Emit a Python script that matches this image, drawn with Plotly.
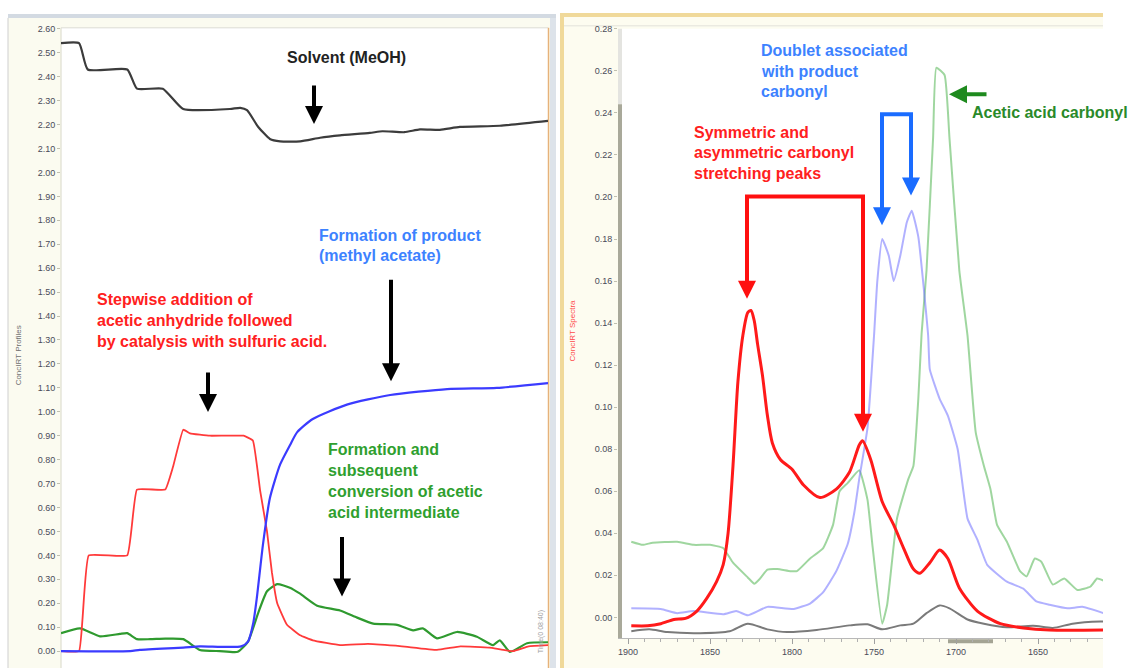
import plotly.graph_objects as go

W, H = 1129, 668

# ---------------- Left panel: ConcIRT profiles (time, arbitrary units 0-100) ----------------
solvent_t = [0, 3.7, 5.5, 13.6, 15.6, 20.9, 25.1, 34.7, 36.8, 38.2, 40.5, 42.9, 45.0, 49.1,
             53.2, 57.3, 63.4, 66.0, 70.5, 73.7, 77.8, 81.9, 90.1, 100]
solvent_v = [2.54, 2.54, 2.43, 2.43, 2.35, 2.35, 2.265, 2.265, 2.27, 2.26, 2.19, 2.14, 2.13, 2.13,
             2.145, 2.155, 2.165, 2.172, 2.168, 2.18, 2.178, 2.19, 2.195, 2.215]

anhydride_t = [0, 3.7, 5.7, 13.6, 15.6, 21.4, 23.0, 25.1, 26.5, 30.6, 37.5, 39.4, 40.9, 42.3,
               43.3, 44.4, 46.4, 49.1, 51.7, 57.3, 63.0, 70.0, 77.2, 82.0, 88.0, 92.8, 96.0, 100]
anhydride_v = [0, 0, 0.40, 0.40, 0.675, 0.675, 0.77, 0.925, 0.91, 0.90, 0.90, 0.88, 0.67, 0.50,
               0.33, 0.20, 0.11, 0.066, 0.045, 0.025, 0.03, 0.02, 0.005, 0.02, 0.015, 0.0, 0.02, 0.025]

product_t = [0, 14.2, 16.2, 25.1, 28.5, 37.0, 38.4, 39.5, 40.2, 41.5, 42.9, 45.0, 47.0, 48.5,
             51.7, 58.7, 67.6, 79.3, 89.5, 100]
product_v = [0, 0, 0.005, 0.015, 0.02, 0.02, 0.04, 0.12, 0.22, 0.45, 0.64, 0.78, 0.86, 0.915,
             0.97, 1.03, 1.07, 1.095, 1.10, 1.12]

acid_t = [0, 3.9, 8.0, 12.1, 13.6, 15.6, 18.3, 21.4, 25.1, 28.5, 32.6, 36.3, 38.4, 40.5, 42.3,
          44.4, 47.0, 49.1, 52.6, 57.3, 60.8, 64.1, 69.0, 72.3, 74.3, 77.2, 81.3, 85.4, 88.7,
          90.1, 92.2, 95.7, 100]
acid_v = [0.075, 0.095, 0.062, 0.072, 0.075, 0.05, 0.05, 0.052, 0.05, 0.005, 0.0, -0.003, 0.04,
          0.16, 0.25, 0.28, 0.265, 0.24, 0.19, 0.17, 0.14, 0.115, 0.11, 0.087, 0.095, 0.053, 0.08,
          0.06, 0.025, 0.045, -0.003, 0.033, 0.037]

left_ticks = [round(i * 0.1, 2) for i in range(27)]

# ---------------- Right panel: ConcIRT spectra (wavenumber) ----------------
red_w = [1898, 1888, 1880, 1872, 1865, 1858, 1852, 1846, 1842, 1839, 1836, 1833, 1830, 1827,
         1825, 1823, 1821, 1818, 1815, 1812, 1807, 1800, 1793, 1783, 1773, 1765, 1759, 1757,
         1752, 1745, 1738, 1732, 1726, 1722, 1716, 1710, 1705, 1698, 1687, 1673, 1659, 1643, 1610]
red_v = [-0.004, -0.004, -0.003, -0.001, -0.0005, 0.003, 0.009, 0.017, 0.025, 0.04, 0.072, 0.112,
         0.134, 0.145, 0.146, 0.141, 0.13, 0.115, 0.096, 0.083, 0.075, 0.0705, 0.063, 0.057, 0.061,
         0.069, 0.082, 0.084, 0.075, 0.055, 0.044, 0.033, 0.023, 0.021, 0.026, 0.032, 0.028, 0.014,
         0.003, -0.003, -0.005, -0.006, -0.006]

blue_w = [1898, 1880, 1870, 1860, 1842, 1834, 1827, 1815, 1799, 1789, 1781, 1773, 1766, 1762,
          1759, 1754, 1750, 1748, 1745, 1741, 1738, 1734, 1730, 1727, 1723, 1717, 1716, 1710,
          1705, 1699, 1693, 1687, 1681, 1669, 1659, 1651, 1643, 1632, 1623, 1610]
blue_v = [0.0043, 0.004, 0.002, 0.003, 0.0015, 0.003, 0.001, 0.005, 0.004, 0.0066, 0.012, 0.022,
          0.035, 0.05, 0.066, 0.09, 0.134, 0.16, 0.18, 0.172, 0.160, 0.172, 0.188, 0.1935, 0.181,
          0.134, 0.118, 0.104, 0.096, 0.08, 0.047, 0.037, 0.025, 0.017, 0.0137, 0.0076, 0.006,
          0.0043, 0.005, 0.002]

green_w = [1898, 1891, 1885, 1870, 1860, 1850, 1842, 1836, 1827, 1823, 1820, 1815, 1809, 1801,
           1797, 1789, 1781, 1775, 1771, 1766, 1759, 1754, 1751, 1745, 1742, 1736, 1729, 1726,
           1723, 1721, 1718, 1714, 1712, 1707, 1704, 1698, 1693, 1688, 1683, 1679, 1675, 1669,
           1661, 1657, 1652, 1648, 1641, 1634, 1626, 1618, 1614, 1610]
green_v = [0.036, 0.0345, 0.0355, 0.036, 0.0345, 0.0345, 0.033, 0.026, 0.019, 0.016, 0.018,
           0.0227, 0.023, 0.022, 0.022, 0.028, 0.033, 0.044, 0.06, 0.064, 0.07, 0.056, 0.0345,
           -0.003, 0.006, 0.047, 0.066, 0.072, 0.104, 0.135, 0.165, 0.228, 0.2615, 0.258, 0.228,
           0.165, 0.134, 0.088, 0.072, 0.061, 0.044, 0.036, 0.022, 0.0195, 0.028, 0.0265, 0.0156,
           0.0185, 0.013, 0.0147, 0.0185, 0.0175]

gray_w = [1898, 1887, 1876, 1856, 1838, 1827, 1815, 1803, 1785, 1765, 1754, 1745, 1734, 1726,
          1718, 1710, 1704, 1693, 1683, 1669, 1653, 1641, 1629, 1612, 1610]
gray_v = [-0.0066, -0.0057, -0.007, -0.0075, -0.0066, -0.003, -0.0057, -0.007, -0.006, -0.0038,
          -0.0033, -0.0057, -0.0038, -0.003, 0.002, 0.0057, 0.0043, -0.001, -0.003, -0.0047,
          -0.004, -0.005, -0.003, -0.002, -0.002]

right_yticks = [round(i * 0.02, 2) for i in range(15)]
right_xticks = [1900, 1850, 1800, 1750, 1700, 1650]


def P(x):
    return x / W


def Q(y):
    return 1 - y / H


fig = go.Figure()


def add_line(x, y, color, width, xa, ya, smooth):
    fig.add_trace(go.Scatter(x=x, y=y, mode="lines",
                             line=dict(color=color, width=width, shape="spline", smoothing=smooth),
                             xaxis=xa, yaxis=ya, showlegend=False, hoverinfo="skip"))


add_line(solvent_t, solvent_v, "#3c3c3c", 2.2, "x", "y", 0.5)
add_line(acid_t, acid_v, "#2f9a2f", 2.2, "x", "y", 0.5)
add_line(anhydride_t, anhydride_v, "#ff3a3a", 1.8, "x", "y", 0.3)
add_line(product_t, product_v, "#3b3bff", 2.2, "x", "y", 0.6)

add_line(green_w, green_v, "rgba(80,180,80,0.55)", 2, "x2", "y2", 0.4)
add_line(blue_w, blue_v, "rgba(100,100,255,0.5)", 2, "x2", "y2", 0.4)
add_line(gray_w, gray_v, "#7a7a7a", 2, "x2", "y2", 0.7)
add_line(red_w, red_v, "#ff1a1a", 3, "x2", "y2", 0.7)

tickfont = dict(family="Liberation Sans, Arial", size=9, color="#4a4a58")

fig.update_layout(
    width=W, height=H, autosize=False,
    margin=dict(l=0, r=0, t=0, b=0),
    paper_bgcolor="white", plot_bgcolor="rgba(0,0,0,0)",
    xaxis=dict(domain=[P(61), P(548)], range=[0, 100], visible=False, anchor="y"),
    yaxis=dict(domain=[0, Q(23)], range=[(651 - 668) / 241.15, 2.6 + 1 / 241.15],
               anchor="x", tickvals=left_ticks, ticktext=[f"{v:.2f}" for v in left_ticks],
               ticks="outside", ticklen=3, tickcolor="#c0c0b0", showgrid=False,
               zeroline=False, showline=False, tickfont=tickfont),
    xaxis2=dict(domain=[P(618), P(1103)], range=[1906.1, 1610.4], anchor="y2",
                tickvals=right_xticks, ticktext=[str(v) for v in right_xticks],
                ticks="outside", ticklen=5, tickcolor="#a0a0a0",
                minor=dict(dtick=10, tick0=1900, ticks="outside", ticklen=3, tickcolor="#b0b0b0"),
                showgrid=False, zeroline=False, showline=True, linecolor="#b8b8b8",
                tickfont=tickfont),
    yaxis2=dict(domain=[Q(638), Q(24)], range=[-21 / 2118.0, 0.28], anchor="x2",
                tickvals=right_yticks, ticktext=[f"{v:.2f}" for v in right_yticks],
                ticks="outside", ticklen=3, tickcolor="#c0c0b0", showgrid=False,
                zeroline=False, showline=False, tickfont=tickfont),
)


def rect(x0, y0, x1, y1, fill, line=None):
    return dict(type="rect", xref="paper", yref="paper", x0=P(x0), x1=P(x1), y0=Q(y1), y1=Q(y0),
                fillcolor=fill, line=dict(width=0) if line is None else line, layer="below")


def seg(x0, y0, x1, y1, color, width, layer="above"):
    return dict(type="line", xref="paper", yref="paper", x0=P(x0), x1=P(x1), y0=Q(y0), y1=Q(y1),
                line=dict(color=color, width=width), layer=layer)


shapes = [
    # left panel frame
    rect(8, 9, 556, 668, "#fbfbf0"),
    rect(8, 9, 556, 13, "#d3dae2"),
    rect(61, 23, 548, 668, "white"),
    seg(61, 23, 548, 23, "#dcdcd4", 1, "below"),
    seg(61, 23, 61, 668, "#d8d8c8", 1, "below"),
    seg(548.5, 23, 548.5, 668, "#e6b27a", 1.5, "below"),
    rect(550, 13, 556, 668, "#dde3ea"),
    seg(8, 13, 8, 668, "#cfcfcf", 1, "below"),
    # right panel frame
    rect(560, 8, 1103, 668, "#fdfcf0"),
    rect(560, 8, 1103, 12, "#f0d99a"),
    rect(560, 8, 564, 668, "#f0d99a"),
    seg(564, 21, 1103, 21, "#e2e2da", 1, "below"),
    rect(622, 24, 1103, 638, "white"),
    rect(618, 24, 622, 100, "#e4e4e0"),
    rect(618, 100, 622, 638, "#a9a99a"),
    rect(948, 639, 993, 643, "#a4a494"),
    # red bracket
    seg(745, 193, 865, 193, "#ff1010", 4),
    # blue bracket
    seg(880, 110, 913, 110, "#1a6cff", 4),
]
fig.update_layout(shapes=shapes)

annotations = []


def text(x, y, s, color, size=16, bold=True):
    annotations.append(dict(x=P(x), y=Q(y), xref="paper", yref="paper", text=f"<b>{s}</b>" if bold else s,
                            showarrow=False, xanchor="left", yanchor="middle",
                            font=dict(family="Liberation Sans, Arial", size=size, color=color)))


def arrow(xt, yt, xs, ys, color, width=4, size=0.9):
    annotations.append(dict(x=P(xt), y=Q(yt), xref="paper", yref="paper", text="",
                            showarrow=True, ax=xs - xt, ay=ys - yt, axref="pixel", ayref="pixel",
                            arrowhead=2, arrowsize=size, arrowwidth=width, arrowcolor=color,
                            standoff=0, startstandoff=0))


RED = "#ff2020"
BLUE = "#3d82ff"
GREEN = "#2f9f2f"
DKGREEN = "#2a8a2a"

text(285, 53, "Solvent (MeOH)", "#222222")
arrow(314, 120, 314, 80, "black")

for i, s in enumerate(["Stepwise addition of", "acetic anhydride followed",
                       "by catalysis with sulfuric acid."]):
    text(95, 297 + 21 * i, s, RED)
arrow(208, 410, 208, 369, "black")

for i, s in enumerate(["Formation of product", "(methyl acetate)"]):
    text(317, 232 + 20.5 * i, s, BLUE)
arrow(391, 379, 391, 276, "black")

for i, s in enumerate(["Formation and", "subsequent", "conversion of acetic",
                       "acid intermediate"]):
    text(326, 448 + 21 * i, s, GREEN)
arrow(342, 596, 342, 535, "black")

for i, s in enumerate(["Doublet associated", "with product", "carbonyl"]):
    text(759, 46 + 20.5 * i, s, BLUE)
arrow(882, 222, 882, 110, "#1a6cff")
arrow(911, 192, 911, 110, "#1a6cff")

for i, s in enumerate(["Symmetric and", "asymmetric carbonyl", "stretching peaks"]):
    text(692, 128 + 21 * i, s, RED)
arrow(747, 296, 747, 193, "#ff1010")
arrow(863, 430, 863, 193, "#ff1010")

text(970, 108, "Acetic acid carbonyl", DKGREEN)
arrow(949, 90, 988, 90, "#1e8a1e")

# axis titles
annotations.append(dict(x=P(18), y=Q(353), xref="paper", yref="paper", text="ConcIRT Profiles",
                        showarrow=False, textangle=-90, xanchor="center", yanchor="middle",
                        font=dict(family="Liberation Sans, Arial", size=8, color="#707070")))
annotations.append(dict(x=P(573), y=Q(328), xref="paper", yref="paper", text="ConcIRT Spectra",
                        showarrow=False, textangle=-90, xanchor="center", yanchor="middle",
                        font=dict(family="Liberation Sans, Arial", size=8, color="#ff4a4a")))
annotations.append(dict(x=P(541), y=Q(632), xref="paper", yref="paper", text="Time(0 08:40)",
                        showarrow=False, textangle=-90, xanchor="center", yanchor="middle",
                        font=dict(family="Liberation Sans, Arial", size=7, color="#a0a0a0")))

fig.update_layout(annotations=annotations)

fig.write_html("out.html", config={"displayModeBar": False},
               post_script="document.body.style.margin='0';document.body.style.overflow='hidden';")
